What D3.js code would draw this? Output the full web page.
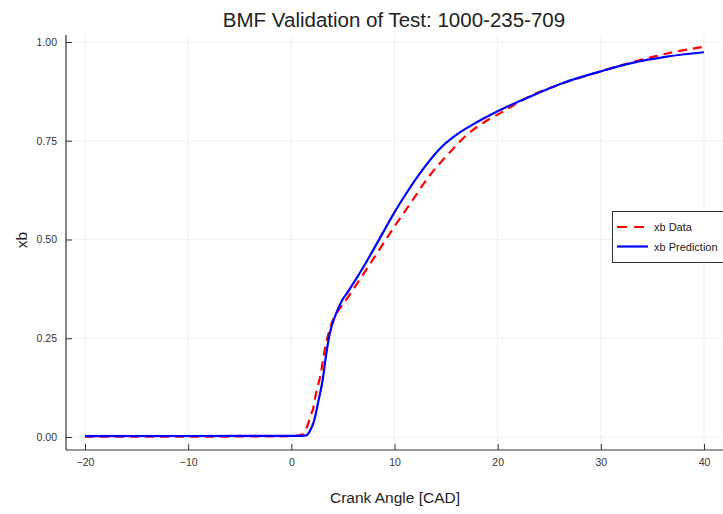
<!DOCTYPE html>
<html>
<head>
<meta charset="utf-8">
<script src="https://cdn.jsdelivr.net/npm/d3@7"></script>
<style>
  html, body { margin: 0; padding: 0; background: #fff; }
  svg { display: block; font-family: "Liberation Sans", Arial, sans-serif; }
</style>
</head>
<body>
<svg id="chart" width="723" height="514"></svg>
<script>
// Measured burn fraction (xb) against crank angle
const dataAngle = [-20, -10, 0, 0.87, 1.2, 1.52, 1.84, 2.16, 2.33, 2.81, 3.3, 3.94, 4.5, 5.2, 6.04, 7.0, 7.98, 9.92, 11.37, 13.47, 15.41, 17.02, 18.63, 20.25, 23.2, 26.4, 29.9, 33.2, 36.4, 40];
const dataXb    = [0.001, 0.001, 0.002, 0.005, 0.009, 0.026, 0.051, 0.077, 0.102, 0.155, 0.229, 0.29, 0.318, 0.343, 0.375, 0.413, 0.452, 0.530, 0.585, 0.664, 0.722, 0.765, 0.796, 0.820, 0.864, 0.896, 0.925, 0.95, 0.971, 0.988];

// Model prediction of xb
const predAngle = [-20, -10, 0, 1.0, 1.45, 1.8, 2.16, 2.65, 3.07, 3.3, 3.71, 4.3, 4.9, 5.5, 6.04, 7.0, 8.94, 9.91, 10.73, 12.82, 14.44, 16.05, 17.66, 19.28, 20.9, 22.2, 26.4, 29.9, 32.85, 36.4, 40];
const predXb    = [0.002, 0.0025, 0.003, 0.003, 0.004, 0.015, 0.037, 0.094, 0.15, 0.195, 0.26, 0.31, 0.345, 0.368, 0.39, 0.431, 0.52, 0.565, 0.60, 0.68, 0.731, 0.766, 0.792, 0.815, 0.836, 0.851, 0.897, 0.925, 0.946, 0.963, 0.974];

const xTicks = [-20, -10, 0, 10, 20, 30, 40];
const yTicks = [0, 0.25, 0.5, 0.75, 1.0];
const legendLabels = ["xb Data", "xb Prediction"];

const svg = d3.select("#chart");

const plot = { left: 66, right: 723, top: 35, bottom: 450 };

const x = d3.scaleLinear().domain([-20, 40]).range([85, 704]);
const y = d3.scaleLinear().domain([0, 1]).range([437, 42]);

// grid
const grid = svg.append("g").attr("stroke", "#efefef").attr("stroke-width", 1);
grid.selectAll("line.v").data(xTicks).join("line")
  .attr("x1", d => x(d)).attr("x2", d => x(d))
  .attr("y1", plot.top).attr("y2", plot.bottom);
grid.selectAll("line.h").data(yTicks).join("line")
  .attr("x1", plot.left).attr("x2", plot.right)
  .attr("y1", d => y(d)).attr("y2", d => y(d));

// axes (ticks pointing inward)
const fmtX = d => d < 0 ? "\u2212" + Math.abs(d) : String(d);
const xAxis = d3.axisBottom(x).tickValues(xTicks).tickSizeInner(-6).tickSizeOuter(0).tickPadding(9).tickFormat(fmtX);
const yAxis = d3.axisLeft(y).tickValues(yTicks).tickSizeInner(-6).tickSizeOuter(0).tickPadding(9).tickFormat(d3.format(".2f"));

const gx = svg.append("g").attr("transform", `translate(0,${plot.bottom})`).call(xAxis);
gx.select(".domain").remove();
gx.selectAll("line").attr("stroke", "#333");
gx.selectAll("text").attr("font-size", 10.5).attr("fill", "#333")
  .attr("font-family", "Liberation Sans, Arial, sans-serif");

const gy = svg.append("g").attr("transform", `translate(${plot.left},0)`).call(yAxis);
gy.select(".domain").remove();
gy.selectAll("line").attr("stroke", "#333");
gy.selectAll("text").attr("font-size", 10.5).attr("fill", "#333")
  .attr("font-family", "Liberation Sans, Arial, sans-serif");

// spines
svg.append("line").attr("x1", plot.left).attr("x2", plot.right)
  .attr("y1", plot.bottom).attr("y2", plot.bottom).attr("stroke", "#333").attr("stroke-width", 1.2);
svg.append("line").attr("x1", plot.left).attr("x2", plot.left)
  .attr("y1", plot.top).attr("y2", plot.bottom).attr("stroke", "#333").attr("stroke-width", 1.2);

// series
const line = d3.line().x(d => x(d[0])).y(d => y(d[1])).curve(d3.curveMonotoneX);
const dataPts = d3.zip(dataAngle, dataXb);
const predPts = d3.zip(predAngle, predXb);

svg.append("path").datum(dataPts).attr("d", line)
  .attr("fill", "none").attr("stroke", "#ff0000").attr("stroke-width", 2.2)
  .attr("stroke-dasharray", "9,6");
svg.append("path").datum(predPts).attr("d", line)
  .attr("fill", "none").attr("stroke", "#0000ff").attr("stroke-width", 2.2);

// titles
svg.append("text").attr("x", 394).attr("y", 27).attr("text-anchor", "middle")
  .attr("font-size", 20.5).attr("fill", "#222").text("BMF Validation of Test: 1000-235-709");
svg.append("text").attr("x", 395).attr("y", 503).attr("text-anchor", "middle")
  .attr("font-size", 15.5).attr("fill", "#222").text("Crank Angle [CAD]");
svg.append("text").attr("transform", "translate(27,240) rotate(-90)").attr("text-anchor", "middle")
  .attr("font-size", 15.5).attr("fill", "#222").text("xb");

// legend
const lg = svg.append("g");
lg.append("rect").attr("x", 612.5).attr("y", 211.5).attr("width", 130).attr("height", 51)
  .attr("fill", "#fff").attr("stroke", "#333").attr("stroke-width", 1);
const legendStyles = [
  { color: "#ff0000", dash: "10,7" },
  { color: "#0000ff", dash: null }
];
legendLabels.forEach((lab, i) => {
  const ly = 227 + i * 19.5;
  lg.append("line").attr("x1", 617).attr("x2", 648).attr("y1", ly).attr("y2", ly)
    .attr("stroke", legendStyles[i].color).attr("stroke-width", 2.2)
    .attr("stroke-dasharray", legendStyles[i].dash);
  lg.append("text").attr("x", 654).attr("y", ly + 4).attr("font-size", 11)
    .attr("fill", "#222").text(lab);
});
</script>
</body>
</html>
